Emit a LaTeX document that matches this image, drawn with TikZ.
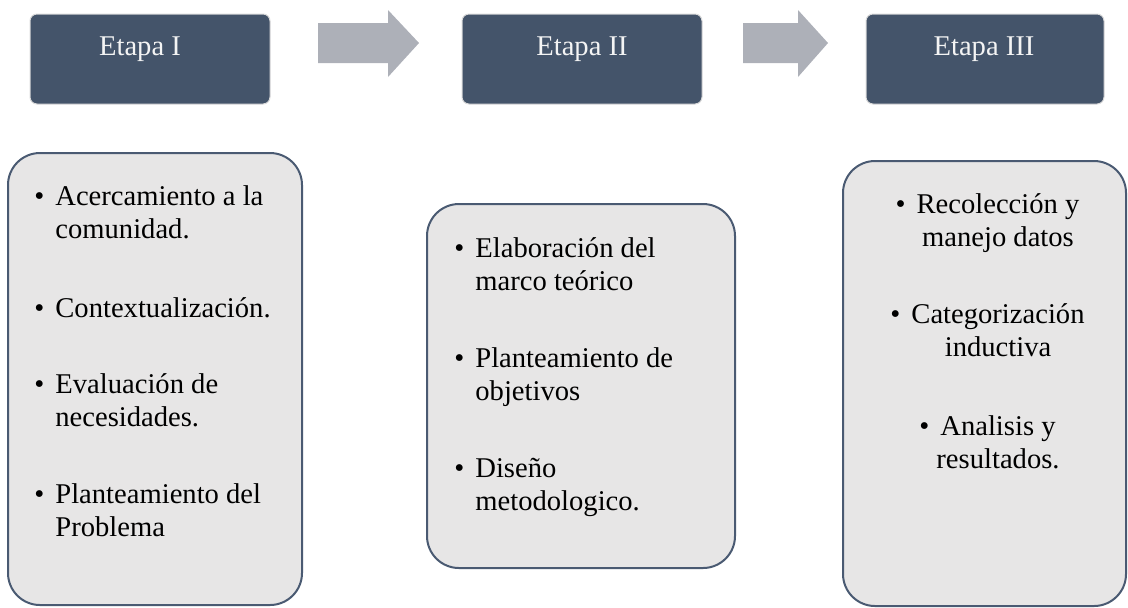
\documentclass[tikz,border=0pt]{standalone}
\usepackage{fontspec}
\setmainfont{Liberation Serif}
\definecolor{stagefill}{HTML}{44546A}
\definecolor{stageedge}{HTML}{D9D9D9}
\definecolor{arrowgray}{HTML}{ADB0B8}
\definecolor{listfill}{HTML}{E7E6E6}
\definecolor{listedge}{HTML}{4A5A72}
\definecolor{stagetext}{HTML}{F4F4F4}
\newcommand{\itembullet}{\llap{\textbullet\hspace{5.5pt}}}
\begin{document}
\begin{tikzpicture}[x=0.5pt,y=-0.5pt,
  stagebox/.style={draw=stageedge, line width=0.5pt, fill=stagefill, rounded corners=3.5pt,
    minimum width=120pt, minimum height=45pt, inner sep=0pt},
  stagetitle/.style={text=stagetext, inner sep=0pt, anchor=base,
    font=\fontsize{14.3}{16.5}\selectfont},
  listbox/.style={draw=listedge, line width=1pt, fill=listfill, rounded corners=16pt, inner sep=0pt},
  listitem/.style={inner sep=0pt, font=\fontsize{14.3}{16.5}\selectfont},
  blockarrow/.style={fill=arrowgray}
]
\useasboundingbox (0,0) rectangle (1128,607);

% top stage boxes
\node[stagebox] (s1) at (150,59) {};
\node[stagebox] (s2) at (582,59) {};
\node[stagebox, minimum width=119pt] (s3) at (985,59) {};
\node[stagetitle] (t1) at (140,55) {Etapa I};
\node[stagetitle] (t2) at (582,55) {Etapa II};
\node[stagetitle] (t3) at (984,55) {Etapa III};

% block arrows
\fill[blockarrow] (318,23) -- (388,23) -- (388,10) -- (419,43) -- (388,77) -- (388,63) -- (318,63) -- cycle;
\fill[blockarrow] (743,23) -- (798,23) -- (798,10) -- (828,43) -- (798,77) -- (798,63) -- (743,63) -- cycle;

% lower list boxes
\node[listbox, minimum width=147pt, minimum height=226pt] (b1) at (155,379) {};
\node[listbox, minimum width=154pt, minimum height=182pt] (b2) at (581,386) {};
\node[listbox, minimum width=141.5pt, minimum height=222.5pt] (b3) at (984.5,383.5) {};

% box 1 items
\node[listitem, anchor=base west] (i11) at (55,205)
  {\begin{tabular}[t]{@{}l@{}}\itembullet Acercamiento a la\\comunidad.\end{tabular}};
\node[listitem, anchor=base west] (i12) at (55,317)
  {\begin{tabular}[t]{@{}l@{}}\itembullet Contextualización.\end{tabular}};
\node[listitem, anchor=base west] (i13) at (55,393)
  {\begin{tabular}[t]{@{}l@{}}\itembullet Evaluación de\\necesidades.\end{tabular}};
\node[listitem, anchor=base west] (i14) at (55,503)
  {\begin{tabular}[t]{@{}l@{}}\itembullet Planteamiento del\\Problema\end{tabular}};

% box 2 items
\node[listitem, anchor=base west] (i21) at (475,257)
  {\begin{tabular}[t]{@{}l@{}}\itembullet Elaboración del\\marco teórico\end{tabular}};
\node[listitem, anchor=base west] (i22) at (475,367)
  {\begin{tabular}[t]{@{}l@{}}\itembullet Planteamiento de\\objetivos\end{tabular}};
\node[listitem, anchor=base west] (i23) at (475,477)
  {\begin{tabular}[t]{@{}l@{}}\itembullet Diseño\\metodologico.\end{tabular}};

% box 3 items (centred)
\node[listitem, anchor=base] (i31) at (998,213)
  {\begin{tabular}[t]{@{}c@{}}\itembullet Recolección y\\manejo datos\end{tabular}};
\node[listitem, anchor=base] (i32) at (998,323)
  {\begin{tabular}[t]{@{}c@{}}\itembullet Categorización\\inductiva\end{tabular}};
\node[listitem, anchor=base] (i33) at (998,435)
  {\begin{tabular}[t]{@{}c@{}}\itembullet Analisis y\\resultados.\end{tabular}};
\end{tikzpicture}
\end{document}
